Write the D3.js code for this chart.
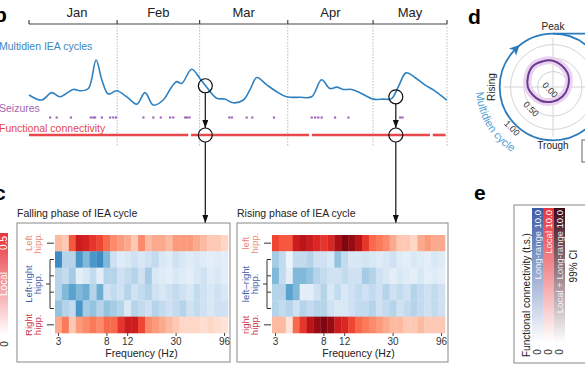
<!DOCTYPE html>
<html lang="en">
<head>
<meta charset="UTF-8">
<title>Multidien IEA cycles and functional connectivity</title>
<style>
    * { margin:0; padding:0; box-sizing:border-box; }
    body { background:#fff; }
    svg { display:block; font-family:"Liberation Sans", Arial, Helvetica, sans-serif; }
</style>
<script src="https://cdn.jsdelivr.net/npm/d3@7"></script>
</head>
<body>
<div id="chart"></div>
<script>
// ---- b: timeline ----
const months=["Jan","Feb","Mar","Apr","May"];
// days since 1 Jan, and the IEA cycle value (a.u.)
const ieaDays=[0,4.5,8,10.9,15.6,17.9,20.9,23.6,25.6,27.9,30.8,34.4,37.9,40.8,43.7,47.2,50.2,51.9,53.7,57.2,60.1,62.5,66,68.9,71.8,75.4,77.7,80.1,83.6,87.1,90.6,95.3,99.4,102.9,105.8,108.2,110.5,113.5,116.4,121.1,124.6,127.5,129.9,132.6,135.7,139.2,142.2,146.9];
const ieaValues=[0.24,0.13,0.29,0.20,0.36,0.33,0.38,1.0,0.57,0.26,0.33,0.20,0.04,0.29,0.02,0.13,0.42,0.53,0.49,0.80,0.60,0.41,0.17,0.15,0.07,0.13,0.35,0.62,0.46,0.31,0.20,0.19,0.20,0.57,0.38,0.41,0.36,0.36,0.29,0.15,0.15,0.16,0.42,0.72,0.62,0.46,0.35,0.13];
const seizureDays=[7.4,9.7,14.7,21.7,22.6,23.2,25.6,28.5,29.6,30.6,40.2,43.7,46.3,49.6,50.7,54.9,55.5,56.4,70.4,71.3,76.5,78.5,86.1,99.4,100.6,101.7,102.9,107.6,112.3,130.5,131.3];
const fcRecorded=[[0,56],[57,98.5],[99.5,141],[142,146.5]];
const markerDays=[62,129];
const markerValues=[0.44,0.20];

// ---- c: heatmaps ----
const freqs=[3,3.5,4,4.6,5.3,6,7,8,9,10.5,12,13.5,15,17,19.5,22,25,30,35,41,48,57,68,81,96];
const freqTicks=[3,8,12,30,96];
const rowKind=["local","long","long","long","long","local"];
const fallingPhase=[
    [0.25,0.2,0.55,0.75,0.72,0.65,0.6,0.5,0.4,0.35,0.3,0.2,0.4,0.25,0.3,0.3,0.25,0.35,0.35,0.35,0.3,0.25,0.2,0.2,0.15],
    [0.65,0.3,0.3,0.6,0.45,0.6,0.65,0.45,0.2,0.12,0.15,0.2,0.15,0.2,0.25,0.15,0.12,0.2,0.15,0.12,0.15,0.12,0.1,0.12,0.1],
    [0.3,0.25,0.35,0.1,0.15,0.25,0.1,0.3,0.3,0.2,0.25,0.3,0.2,0.35,0.15,0.12,0.1,0.15,0.12,0.1,0.15,0.2,0.12,0.15,0.1],
    [0.3,0.45,0.55,0.45,0.5,0.3,0.5,0.2,0.25,0.2,0.3,0.2,0.25,0.3,0.2,0.15,0.2,0.25,0.2,0.15,0.25,0.2,0.15,0.2,0.15],
    [0.4,0.3,0.25,0.6,0.35,0.4,0.3,0.4,0.35,0.3,0.15,0.3,0.25,0.2,0.3,0.25,0.2,0.25,0.3,0.2,0.25,0.2,0.15,0.2,0.2],
    [0.3,0.45,0.2,0.35,0.4,0.45,0.4,0.5,0.5,0.65,0.75,0.75,0.6,0.4,0.35,0.3,0.25,0.2,0.15,0.15,0.15,0.12,0.15,0.12,0.1]
];
const risingPhase=[
    [0.6,0.55,0.55,0.75,0.8,0.75,0.7,0.65,0.7,0.85,0.95,0.9,0.8,0.65,0.5,0.45,0.4,0.3,0.2,0.2,0.15,0.3,0.35,0.3,0.3],
    [0.35,0.25,0.05,0.25,0.25,0.3,0.2,0.2,0.15,0.4,0.25,0.15,0.15,0.18,0.15,0.12,0.15,0.2,0.12,0.1,0.15,0.12,0.1,0.15,0.12],
    [0.45,0.25,0.1,0.45,0.45,0.4,0.3,0.25,0.2,0.2,0.25,0.2,0.2,0.35,0.3,0.2,0.15,0.1,0.15,0.12,0.1,0.15,0.1,0.12,0.1],
    [0.3,0.3,0.55,0.45,0.1,0.1,0.2,0.3,0.15,0.25,0.15,0.2,0.25,0.2,0.25,0.2,0.3,0.2,0.25,0.2,0.3,0.25,0.2,0.25,0.2],
    [0.3,0.25,0.3,0.2,0.3,0.25,0.3,0.3,0.2,0.15,0.15,0.2,0.25,0.25,0.3,0.2,0.25,0.3,0.2,0.25,0.3,0.25,0.2,0.25,0.2],
    [0.25,0.25,0.1,0.5,0.65,0.8,0.9,0.95,0.9,0.75,0.7,0.6,0.5,0.45,0.4,0.35,0.3,0.25,0.25,0.2,0.2,0.25,0.2,0.2,0.2]
];

// ---- d: polar ----
const phaseAngles=[0,45,90,135,180,225,270,315];
const phaseFC=[0.45,0.34,0.24,0.21,0.23,0.31,0.43,0.50];
const radialRings=[0.25,0.5,0.75];
const radialLabels=[0,0.5,1];

const W=585,H=390;
const svg=d3.select("#chart").append("svg").attr("width",W).attr("height",H);
const defs=svg.append("defs");
defs.append("marker").attr("id","arrow")
    .attr("viewBox","0 0 8 6").attr("refX",8).attr("refY",3)
    .attr("markerWidth",8).attr("markerHeight",6).attr("markerUnits","userSpaceOnUse")
    .attr("orient","auto")
  .append("path").attr("d","M0,0L8,3L0,6Z").attr("fill","#111");

function vGrad(id,top){
    const g=defs.append("linearGradient").attr("id",id).attr("x1",0).attr("y1",1).attr("x2",0).attr("y2",0);
    g.append("stop").attr("offset",0).attr("stop-color","#fff");
    g.append("stop").attr("offset",1).attr("stop-color",top);
}
vGrad("gLocal","#e8343c");
vGrad("gLong","#3c5aa6");
vGrad("gBoth","#3a0718");

// panel letters
[["b",-6,22],["c",-6,200],["d",468,24],["e",474,200]].forEach(([t,x,y])=>{
    svg.append("text").attr("x",x).attr("y",y).text(t)
        .attr("font-size",21).attr("font-weight",900).attr("fill","#000");
});

// ---------- b ----------
const t0=Date.UTC(2020,0,1);
const toDate=d=>new Date(t0+d*864e5);
const xScale=d3.scaleUtc([toDate(0),toDate(147)],[29,447]);
const yScale=d3.scaleLinear([0,1],[106,60]);
const monthStarts=d3.utcMonth.range(toDate(0),toDate(147));
const edges=monthStarts.concat([toDate(147)]);

svg.append("line").attr("x1",29).attr("x2",447).attr("y1",24).attr("y2",24)
    .attr("stroke","#444").attr("stroke-width",1.2);
edges.forEach((d,i)=>{
    const xx=xScale(d);
    svg.append("line").attr("x1",xx).attr("x2",xx).attr("y1",20).attr("y2",24)
        .attr("stroke","#444").attr("stroke-width",1.2);
    if(i>0) svg.append("line").attr("x1",xx).attr("x2",xx).attr("y1",24).attr("y2",146)
        .attr("stroke","#aaa").attr("stroke-width",0.8).attr("stroke-dasharray","1.5,1.5");
});
monthStarts.forEach((d,i)=>{
    const shift=i===0?4:0;
    svg.append("text").attr("x",(xScale(d)+xScale(edges[i+1]))/2+shift).attr("y",17)
        .attr("text-anchor","middle").attr("font-size",13).attr("fill","#222").text(months[i]);
});

svg.append("text").attr("x",-1).attr("y",50).attr("font-size",10.5).attr("fill","#3b87c2").text("Multidien IEA cycles");
svg.append("text").attr("x",-1).attr("y",112).attr("font-size",10.5).attr("fill","#a566b4").text("Seizures");
svg.append("text").attr("x",-1).attr("y",132).attr("font-size",10.5).attr("fill","#e2474d").text("Functional connectivity");

const ieaLine=d3.line()
    .x(i=>xScale(toDate(ieaDays[i])))
    .y(i=>yScale(ieaValues[i]))
    .curve(d3.curveCatmullRom.alpha(0.5));
svg.append("path").attr("d",ieaLine(d3.range(ieaDays.length)))
    .attr("fill","none").attr("stroke","#2f80bf").attr("stroke-width",1.6);

svg.append("g").attr("fill","#9b5cb4").selectAll("rect").data(seizureDays).join("rect")
    .attr("x",d=>xScale(toDate(d))-1).attr("y",116.5).attr("width",2.2).attr("height",2);

const fcY=135;
svg.append("g").selectAll("line").data(fcRecorded).join("line")
    .attr("x1",d=>xScale(toDate(d[0]))).attr("x2",d=>xScale(toDate(d[1])))
    .attr("y1",fcY).attr("y2",fcY).attr("stroke","#e8474c").attr("stroke-width",2.6);

const boxTop=223;
markerDays.forEach((d,i)=>{
    const xx=xScale(toDate(d)), yy=yScale(markerValues[i]);
    svg.append("circle").attr("cx",xx).attr("cy",yy).attr("r",7)
        .attr("fill","none").attr("stroke","#111").attr("stroke-width",1.2);
    svg.append("circle").attr("cx",xx).attr("cy",fcY).attr("r",7)
        .attr("fill","none").attr("stroke","#111").attr("stroke-width",1.2);
    svg.append("line").attr("x1",xx).attr("x2",xx).attr("y1",yy+7).attr("y2",fcY-7)
        .attr("stroke","#111").attr("stroke-width",1.2).attr("marker-end","url(#arrow)");
    svg.append("line").attr("x1",xx).attr("x2",xx).attr("y1",fcY+7).attr("y2",boxTop)
        .attr("stroke","#111").attr("stroke-width",1.2).attr("marker-end","url(#arrow)");
});

// ---------- c ----------
// local colour bar on the far left
svg.append("rect").attr("x",-4).attr("y",233).attr("width",12).attr("height",102).attr("fill","url(#gLocal)");
svg.append("text").attr("transform","translate(7,236) rotate(-90)").attr("text-anchor","end")
    .attr("font-size",10).attr("fill","#fff").text("0.5");
svg.append("text").attr("transform","translate(7,284) rotate(-90)").attr("text-anchor","middle")
    .attr("font-size",10).attr("fill","#fff").text("Local");
svg.append("text").attr("transform","translate(8,344) rotate(-90)").attr("text-anchor","middle")
    .attr("font-size",10).attr("fill","#222").text("0");

const panels=[
    {title:"Falling phase of IEA cycle",data:fallingPhase,bx:17,bw:213,hx:55,
     labels:[["Left","hipp."],["Left-right","hipp."],["Right","hipp."]]},
    {title:"Rising phase of IEA cycle",data:risingPhase,bx:237,bw:211,hx:272,
     labels:[["left","hipp."],["left\u2013right","hipp."],["right","hipp."]]}
];
const labelColors=["#ec8a78","#3f5ea6","#c8384c"];
const hw=173, hTop=235, hBot=333;

panels.forEach(p=>{
    const g=svg.append("g");
    g.append("rect").attr("x",p.bx).attr("y",boxTop).attr("width",p.bw).attr("height",139)
        .attr("fill","none").attr("stroke","#888").attr("stroke-width",1);
    g.append("text").attr("x",p.bx).attr("y",217).attr("font-size",10.5).attr("fill","#222").text(p.title);

    const xb=d3.scaleBand(freqs,[p.hx,p.hx+hw]);
    const yb=d3.scaleBand(d3.range(rowKind.length),[hTop,hBot]);
    const cells=p.data.flatMap((row,r)=>row.map((v,c)=>({r,c,v})));
    g.append("g").selectAll("rect").data(cells).join("rect")
        .attr("x",d=>xb(freqs[d.c])).attr("y",d=>yb(d.r))
        .attr("width",xb.bandwidth()+0.3).attr("height",yb.bandwidth()+0.3)
        .attr("fill",d=>rowKind[d.r]==="local"?d3.interpolateReds(d.v):d3.interpolateBlues(d.v));

    g.append("g").attr("transform",`translate(0,${hBot})`)
        .call(d3.axisBottom(xb).tickValues(freqTicks).tickSize(3).tickPadding(2))
        .call(a=>a.select(".domain").remove())
        .call(a=>a.selectAll("line").attr("stroke","#444"))
        .call(a=>a.selectAll("text").attr("font-size",10).attr("fill","#333").attr("font-family",null));
    g.append("text").attr("x",p.hx+hw/2).attr("y",357).attr("text-anchor","middle")
        .attr("font-size",10.5).attr("fill","#222").text("Frequency (Hz)");

    // row ticks and bracket
    const cy=r=>yb(r)+yb.bandwidth()/2;
    const ln=(x1,y1,x2,y2)=>g.append("line").attr("x1",x1).attr("y1",y1).attr("x2",x2).attr("y2",y2)
        .attr("stroke","#333").attr("stroke-width",1);
    ln(p.hx-8,cy(0),p.hx-1,cy(0));
    ln(p.hx-8,cy(5),p.hx-1,cy(5));
    ln(p.hx-5,cy(1),p.hx-5,cy(4));
    [1,2,3,4].forEach(r=>ln(p.hx-5,cy(r),p.hx-1,cy(r)));
    ln(p.hx-9,(cy(1)+cy(4))/2,p.hx-5,(cy(1)+cy(4))/2);

    const groupY=[cy(0),(cy(1)+cy(4))/2,cy(5)];
    p.labels.forEach((lines,i)=>{
        const t=g.append("text").attr("transform",`translate(${p.hx-23},${groupY[i]}) rotate(-90)`)
            .attr("text-anchor","middle").attr("font-size",9.5).attr("fill",labelColors[i]);
        lines.forEach((s,j)=>t.append("tspan").attr("x",0).attr("dy",j?8.5:0).text(s));
    });
});

// ---------- d ----------
const cx=553, cyP=87;
const rScale=d3.scaleLinear([0,1],[2,56]);
const pol=(deg,r)=>[cx+r*Math.sin(deg*Math.PI/180),cyP-r*Math.cos(deg*Math.PI/180)];
const pg=svg.append("g");
radialRings.forEach(v=>pg.append("circle").attr("cx",cx).attr("cy",cyP).attr("r",rScale(v))
    .attr("fill","none").attr("stroke","#cfcfcf").attr("stroke-width",0.9));
pg.append("line").attr("x1",cx).attr("x2",cx).attr("y1",cyP-rScale(0.88)).attr("y2",cyP+rScale(0.88))
    .attr("stroke","#cfcfcf").attr("stroke-width",0.9);
pg.append("line").attr("x1",cx-rScale(0.88)).attr("x2",cx+rScale(0.88)).attr("y1",cyP).attr("y2",cyP)
    .attr("stroke","#cfcfcf").attr("stroke-width",0.9);

const cycleR=rScale(0.95);
pg.append("circle").attr("cx",cx).attr("cy",cyP).attr("r",cycleR)
    .attr("fill","none").attr("stroke","#2b7bbb").attr("stroke-width",1.8);
pg.append("line").attr("x1",cx).attr("x2",W+5).attr("y1",cyP-cycleR).attr("y2",cyP-cycleR)
    .attr("stroke","#2b7bbb").attr("stroke-width",1.8);
{
    const [ax,ay]=pol(315,cycleR);
    pg.append("path").attr("transform",`translate(${ax},${ay}) rotate(-45)`)
        .attr("d","M6,0L-4,-5L-1.5,0L-4,5Z").attr("fill","#2b7bbb");
}

const radial=d3.lineRadial()
    .angle(i=>phaseAngles[i]*Math.PI/180)
    .radius(i=>rScale(phaseFC[i]))
    .curve(d3.curveCatmullRomClosed.alpha(0.5));
const rd=radial(d3.range(phaseAngles.length));
pg.append("path").attr("transform",`translate(${cx},${cyP})`).attr("d",rd)
    .attr("fill","none").attr("stroke","#ead3f0").attr("stroke-width",8);
pg.append("path").attr("transform",`translate(${cx},${cyP})`).attr("d",rd)
    .attr("fill","none").attr("stroke","#6a3a90").attr("stroke-width",2);

radialLabels.forEach(v=>{
    const [lx,ly]=pol(225,rScale(v)+2);
    pg.append("text").attr("transform",`translate(${lx},${ly}) rotate(45)`)
        .attr("text-anchor","middle").attr("dy","0.35em").attr("font-size",9).attr("fill","#333")
        .text(v.toFixed(2));
});
pg.append("text").attr("x",cx).attr("y",30).attr("text-anchor","middle").attr("font-size",10).attr("fill","#222").text("Peak");
pg.append("text").attr("x",cx).attr("y",149).attr("text-anchor","middle").attr("font-size",10).attr("fill","#222").text("Trough");
pg.append("text").attr("transform",`translate(495,${cyP}) rotate(-90)`).attr("text-anchor","middle")
    .attr("font-size",10).attr("fill","#222").text("Rising");

{
    const R=77, a0=266, a1=160;
    const [sx,sy]=pol(a0,R), [ex,ey]=pol(a1,R);
    defs.append("path").attr("id","cyclePath").attr("d",`M${sx},${sy}A${R},${R} 0 0 0 ${ex},${ey}`);
    pg.append("text").attr("font-size",11).attr("fill","#539fd8")
        .append("textPath").attr("href","#cyclePath").text("Multidien cycle");
}
pg.append("rect").attr("x",582).attr("y",140).attr("width",20).attr("height",22)
    .attr("fill","none").attr("stroke","#555").attr("stroke-width",0.9);

// ---------- e ----------
const eg=svg.append("g");
eg.append("rect").attr("x",514).attr("y",205).attr("width",90).attr("height",158)
    .attr("fill","none").attr("stroke","#888").attr("stroke-width",1);
eg.append("text").attr("transform","translate(530,357) rotate(-90)")
    .attr("font-size",10).attr("fill","#222").text("Functional connectivity (t.s.)");
const bars=[["gLong","Long-range"],["gLocal","Local"],["gBoth","Local + Long-range"]];
bars.forEach(([gid,name],i)=>{
    const bx=532+i*11;
    eg.append("rect").attr("x",bx).attr("y",208).attr("width",11).attr("height",135).attr("fill",`url(#${gid})`);
    eg.append("text").attr("transform",`translate(${bx+9},210) rotate(-90)`).attr("text-anchor","end")
        .attr("font-size",9.5).attr("fill","#fff").text("10.0");
    eg.append("text").attr("transform",`translate(${bx+9},231) rotate(-90)`).attr("text-anchor","end")
        .attr("font-size",9.5).attr("fill","#fff").attr("fill-opacity",0.9).text(name);
    eg.append("text").attr("transform",`translate(${bx+9},352) rotate(-90)`).attr("text-anchor","middle")
        .attr("font-size",10).attr("fill","#222").text("0");
});
eg.append("text").attr("transform","translate(577,266) rotate(-90)").attr("text-anchor","middle")
    .attr("font-size",10).attr("fill","#222").text("99% CI");
</script>
</body>
</html>
